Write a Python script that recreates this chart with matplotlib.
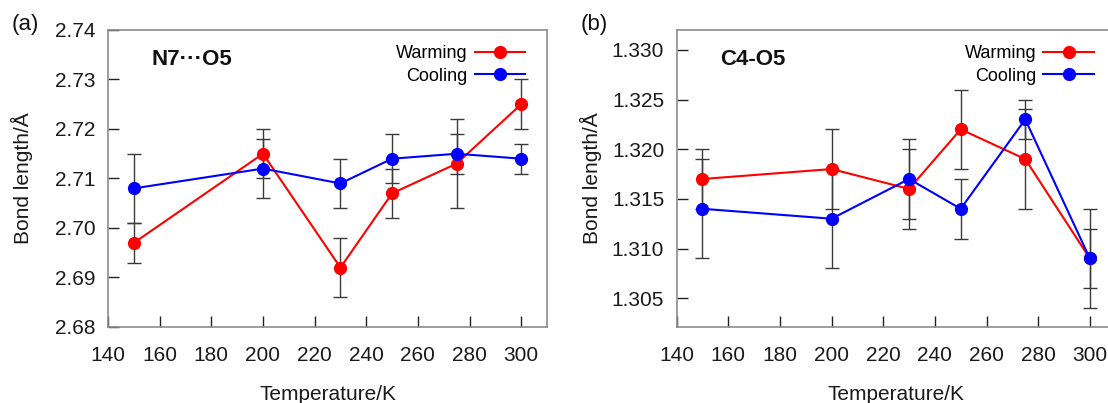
import matplotlib.pyplot as plt

plt.rcParams['font.family'] = ['Liberation Sans', 'DejaVu Sans']

# Temperatures (K)
temps = [150, 200, 230, 250, 275, 300]

# (a) N7...O5 distance
n7o5_warm = [2.697, 2.715, 2.692, 2.707, 2.713, 2.725]
n7o5_warm_err = [0.004, 0.005, 0.006, 0.005, 0.009, 0.005]
n7o5_cool = [2.708, 2.712, 2.709, 2.714, 2.715, 2.714]
n7o5_cool_err = [0.007, 0.006, 0.005, 0.005, 0.004, 0.003]

# (b) C4-O5 bond
c4o5_warm = [1.317, 1.318, 1.316, 1.322, 1.319, 1.309]
c4o5_warm_err = [0.003, 0.004, 0.004, 0.004, 0.005, 0.005]
c4o5_cool = [1.314, 1.313, 1.317, 1.314, 1.323, 1.309]
c4o5_cool_err = [0.005, 0.005, 0.004, 0.003, 0.002, 0.003]

fig = plt.figure(figsize=(11.08, 4.03), dpi=100)
ax_a = fig.add_axes([0.0975, 0.1886, 0.3962, 0.737])
ax_b = fig.add_axes([0.6107, 0.1886, 0.3962, 0.737])


def draw_panel(ax, warm, warm_err, cool, cool_err, ylim, yticks, yfmt, title, tag):
    # error bars first so the markers sit on top
    for vals, errs in ((warm, warm_err), (cool, cool_err)):
        ax.errorbar(temps, vals, yerr=errs, fmt='none', ecolor='#3a3a3a',
                     elinewidth=1.0, capsize=5, capthick=1.0, zorder=2)
    ax.plot(temps, warm, '-o', color='#ff0000', lw=1.5, ms=8.5, label='Warming', zorder=3)
    ax.plot(temps, cool, '-o', color='#0000ff', lw=1.5, ms=8.5, label='Cooling', zorder=4)

    ax.set_xlim(140, 310)
    ax.set_ylim(*ylim)
    ax.set_xticks(range(140, 301, 20))
    ax.set_yticks(yticks)
    ax.set_yticklabels([yfmt.format(v) for v in yticks])
    ax.tick_params(direction='in', length=8, width=1.0, color='#222222',
                   labelsize=15, labelcolor='#1a1a1a', top=False, right=False)
    ax.tick_params(axis='x', pad=14)
    ax.tick_params(axis='y', pad=9)
    for sp in ax.spines.values():
        sp.set_color('#8c8c8c')
        sp.set_linewidth(1.2)

    ax.set_xlabel('Temperature/K', fontsize=15, labelpad=14, color='#1a1a1a')
    ax.set_ylabel('Bond length/Å', fontsize=15, color='#1a1a1a')
    ax.yaxis.set_label_coords(-0.171, 0.5)

    ax.text(0.1, 0.9, title, transform=ax.transAxes, fontsize=16,
            fontweight='bold', ha='left', va='center', color='#111111')
    ax.text(-0.219, 1.02, tag, transform=ax.transAxes, fontsize=16,
            ha='left', va='center', color='#111111')

    ax.legend(loc='upper right', bbox_to_anchor=(0.975, 0.985), frameon=False,
              markerfirst=False, fontsize=13, handlelength=2.8,
              handletextpad=0.4, labelspacing=0.3, borderaxespad=0.2)


draw_panel(ax_a, n7o5_warm, n7o5_warm_err, n7o5_cool, n7o5_cool_err,
           (2.68, 2.74), [2.68, 2.69, 2.70, 2.71, 2.72, 2.73, 2.74], '{:.2f}',
           'N7\u00b7\u00b7\u00b7O5', '(a)')
draw_panel(ax_b, c4o5_warm, c4o5_warm_err, c4o5_cool, c4o5_cool_err,
           (1.3021, 1.3320), [1.305, 1.310, 1.315, 1.320, 1.325, 1.330], '{:.3f}',
           'C4-O5', '(b)')

fig.savefig('out.png', dpi=100)
